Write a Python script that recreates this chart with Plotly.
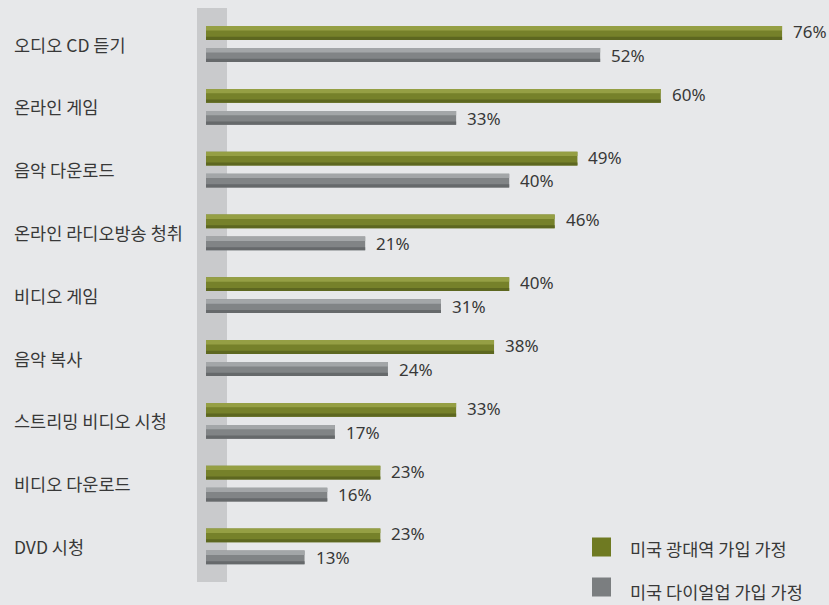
import plotly.graph_objects as go

categories = ["오디오 CD 듣기", "온라인 게임", "음악 다운로드", "온라인 라디오방송 청취",
              "비디오 게임", "음악 복사", "스트리밍 비디오 시청", "비디오 다운로드", "DVD 시청"]
broadband = [76, 60, 49, 46, 40, 38, 33, 23, 23]
dialup = [52, 33, 40, 21, 31, 24, 17, 16, 13]
series_names = ["미국 광대역 가입 가정", "미국 다이얼업 가입 가정"]

W, H = 829, 605
X0, XS = 206, 7.58          # pixel of zero, pixels per percent
Y0, YS = 44, 62.8           # pixel of first group centre, pixels per group

FONT = "Noto Sans CJK KR"
TXT = "#383838"
BG = "#e7e8ea"

# colour sets: main, highlight, shade
GREEN = ("#76812a", "#959f44", "#5d6720")
GRAY = ("#818486", "#a3a6a8", "#66696b")

pos = list(range(len(categories)))
fig = go.Figure()

def add_bars(values, colors, off):
    main, hi, sh = colors
    fig.add_trace(go.Bar(y=pos, x=values, orientation="h", base=0,
                         offset=off - 0.11, width=0.22, marker_color=main,
                         marker_line_width=0, hoverinfo="skip"))
    fig.add_trace(go.Bar(y=pos, x=values, orientation="h", base=0,
                         offset=off - 0.11, width=0.07, marker_color=hi,
                         marker_line_width=0, hoverinfo="skip"))
    fig.add_trace(go.Bar(y=pos, x=values, orientation="h", base=0,
                         offset=off + 0.06, width=0.05, marker_color=sh,
                         marker_line_width=0, hoverinfo="skip"))

add_bars(broadband, GREEN, -0.175)
add_bars(dialup, GRAY, 0.175)

annotations = []
for i, c in enumerate(categories):
    annotations.append(dict(x=12 / W, xref="paper", y=i, yref="y", text=c,
                            xanchor="left", yanchor="middle", showarrow=False,
                            font=dict(family=FONT, size=17.5, color=TXT)))
for i, v in enumerate(broadband):
    annotations.append(dict(x=v, y=i - 0.2, text=f"{v}%", xanchor="left", yanchor="middle",
                            xshift=9, showarrow=False,
                            font=dict(family="Noto Sans", size=17, color=TXT)))
for i, v in enumerate(dialup):
    annotations.append(dict(x=v, y=i + 0.18, text=f"{v}%", xanchor="left", yanchor="middle",
                            xshift=9, showarrow=False,
                            font=dict(family="Noto Sans", size=17, color=TXT)))

shapes = [dict(type="rect", xref="paper", yref="paper", layer="below",
               x0=197 / W, x1=227 / W, y0=1 - 582 / H, y1=1 - 8 / H,
               fillcolor="#c9cacc", line_width=0)]

# legend swatches and labels
for name, col, sy, ty in zip(series_names, ["#6f7a22", "#7b7e80"], [547, 587], [548, 591]):
    shapes.append(dict(type="rect", xref="paper", yref="paper",
                       x0=592 / W, x1=611 / W, y0=1 - (sy + 9.5) / H, y1=1 - (sy - 9.5) / H,
                       fillcolor=col, line_width=0))
    annotations.append(dict(x=628 / W, xref="paper", y=1 - ty / H, yref="paper", text=name,
                            xanchor="left", yanchor="middle", showarrow=False,
                            font=dict(family=FONT, size=17.5, color=TXT)))

fig.update_layout(
    width=W, height=H, margin=dict(l=0, r=0, t=0, b=0),
    paper_bgcolor=BG, plot_bgcolor=BG, barmode="overlay", showlegend=False,
    xaxis=dict(range=[-X0 / XS, (W - X0) / XS], visible=False, fixedrange=True),
    yaxis=dict(range=[(H - Y0) / YS, -Y0 / YS], visible=False, fixedrange=True),
    annotations=annotations, shapes=shapes,
)

fig.write_html("out.html")
